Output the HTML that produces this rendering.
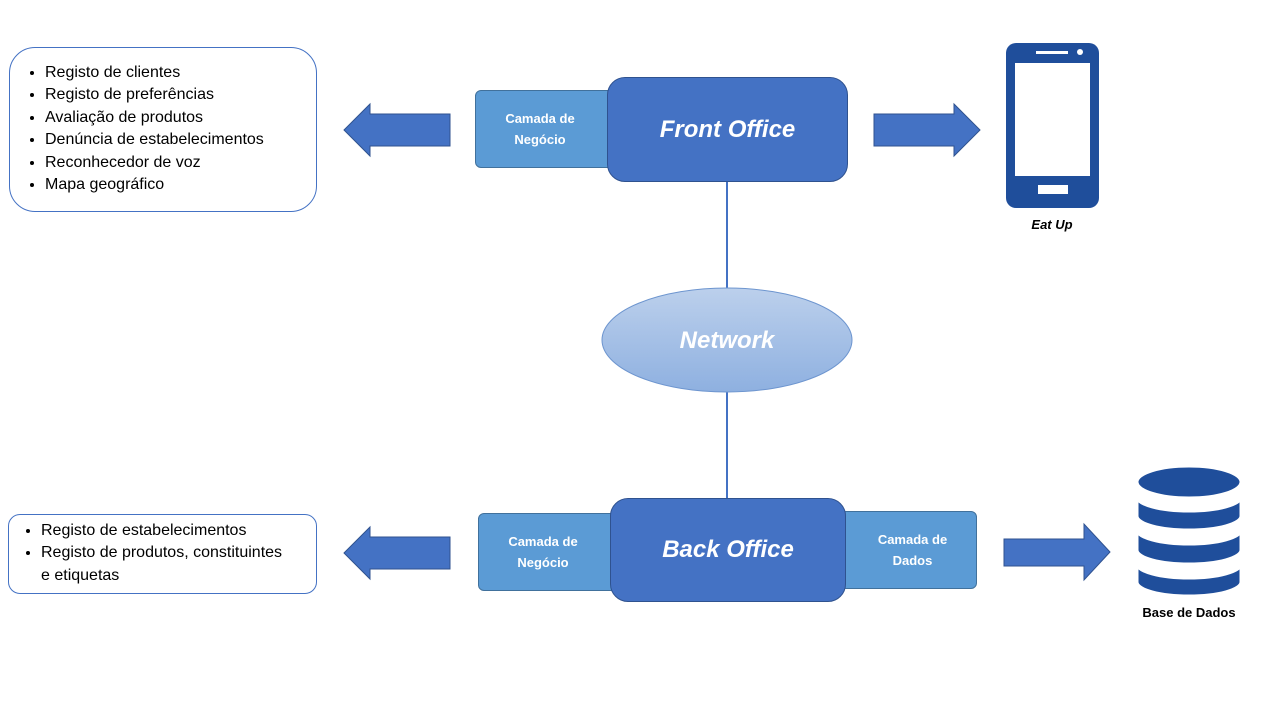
<!DOCTYPE html>
<html><head><meta charset="utf-8"><style>
body{margin:0;background:#fff;width:1280px;height:720px;overflow:hidden;font-family:"Liberation Sans",sans-serif}
.abs{position:absolute}
.list{position:absolute;border:1px solid #4472c4;background:#fff;box-sizing:border-box;font-size:16px;color:#000}
.list ul{margin:0;padding:0 0 0 36px}
.list li{line-height:22.4px}
.cam{position:absolute;background:#5b9bd5;border:1px solid #41719c;box-sizing:border-box;border-radius:6px;color:#fff;font-weight:bold;font-size:13px;display:flex;align-items:center;justify-content:center;text-align:center;line-height:21px}
.off{position:absolute;background:#4472c4;border:1px solid #2f528f;box-sizing:border-box;border-radius:18px;color:#fff;font-weight:bold;font-style:italic;font-size:24px;display:flex;align-items:center;justify-content:center}
</style></head><body>
<svg class="abs" style="left:0;top:0" width="1280" height="720">
<defs><linearGradient id="g" x1="0" y1="0" x2="0" y2="1"><stop offset="0" stop-color="#bcd0ec"/><stop offset="1" stop-color="#8eb0e0"/></linearGradient></defs>
<line x1="727" y1="182" x2="727" y2="500" stroke="#4472c4" stroke-width="2"/>
<ellipse cx="727" cy="340" rx="125" ry="52" fill="url(#g)" stroke="#6d95cf" stroke-width="1"/>
<polygon points="344,130 370,104 370,114 450,114 450,146 370,146 370,156" fill="#4472c4" stroke="#2f528f"/>
<polygon points="874,114 954,114 954,104 980,130 954,156 954,146 874,146" fill="#4472c4" stroke="#2f528f"/>
<polygon points="344,553 370,527 370,537 450,537 450,569 370,569 370,579" fill="#4472c4" stroke="#2f528f"/>
<polygon points="1004,539 1084,539 1084,524 1110,552 1084,580 1084,566 1004,566" fill="#4472c4" stroke="#2f528f"/>
<!-- phone -->
<rect x="1006" y="43" width="93" height="165" rx="10" fill="#1f4e9b"/>
<rect x="1015" y="63" width="75" height="113" fill="#fff"/>
<rect x="1038" y="185" width="30" height="9" fill="#fff"/>
<rect x="1036" y="51" width="32" height="3" fill="#fff"/>
<circle cx="1080" cy="52" r="3" fill="#fff"/>
<!-- db -->
<g fill="#1f4e9b" stroke="#fff" stroke-width="3">
<path d="M1137,564 v18 a52,14 0 0 0 104,0 v-18 a52,14 0 0 1 -104,0z"/>
<path d="M1137,530 v20 a52,14 0 0 0 104,0 v-20 a52,14 0 0 1 -104,0z"/>
<path d="M1137,497 v19 a52,14 0 0 0 104,0 v-19 a52,14 0 0 1 -104,0z"/>
<ellipse cx="1189" cy="482" rx="52" ry="16"/>
</g>
<text x="727" y="348" fill="#fff" font-family="Liberation Sans" font-weight="bold" font-style="italic" font-size="24" text-anchor="middle">Network</text>
<text x="1052" y="229" font-family="Liberation Sans" font-weight="bold" font-style="italic" font-size="13" text-anchor="middle">Eat Up</text>
<text x="1189" y="617" font-family="Liberation Sans" font-weight="bold" font-size="13" text-anchor="middle">Base de Dados</text>
</svg>
<div class="list" style="left:9px;top:47px;width:308px;height:165px;border-radius:26px;padding-top:14px"><ul style="padding-left:35px">
<li>Registo de clientes</li><li>Registo de preferências</li><li>Avaliação de produtos</li><li>Denúncia de estabelecimentos</li><li>Reconhecedor de voz</li><li>Mapa geográfico</li></ul></div>
<div class="list" style="left:8px;top:514px;width:309px;height:80px;border-radius:12px;padding-top:5px"><ul style="padding-left:32px;padding-right:14px">
<li>Registo de estabelecimentos</li><li>Registo de produtos, constituintes<br>e etiquetas</li></ul></div>
<div class="cam" style="left:475px;top:90px;width:140px;height:78px;padding-right:10px">Camada de<br>Negócio</div>
<div class="off" style="left:607px;top:77px;width:241px;height:105px">Front Office</div>
<div class="cam" style="left:478px;top:513px;width:140px;height:78px;padding-right:10px">Camada de<br>Negócio</div>
<div class="cam" style="left:840px;top:511px;width:137px;height:78px;padding-left:8px">Camada de<br>Dados</div>
<div class="off" style="left:610px;top:498px;width:236px;height:104px">Back Office</div>
</body></html>
